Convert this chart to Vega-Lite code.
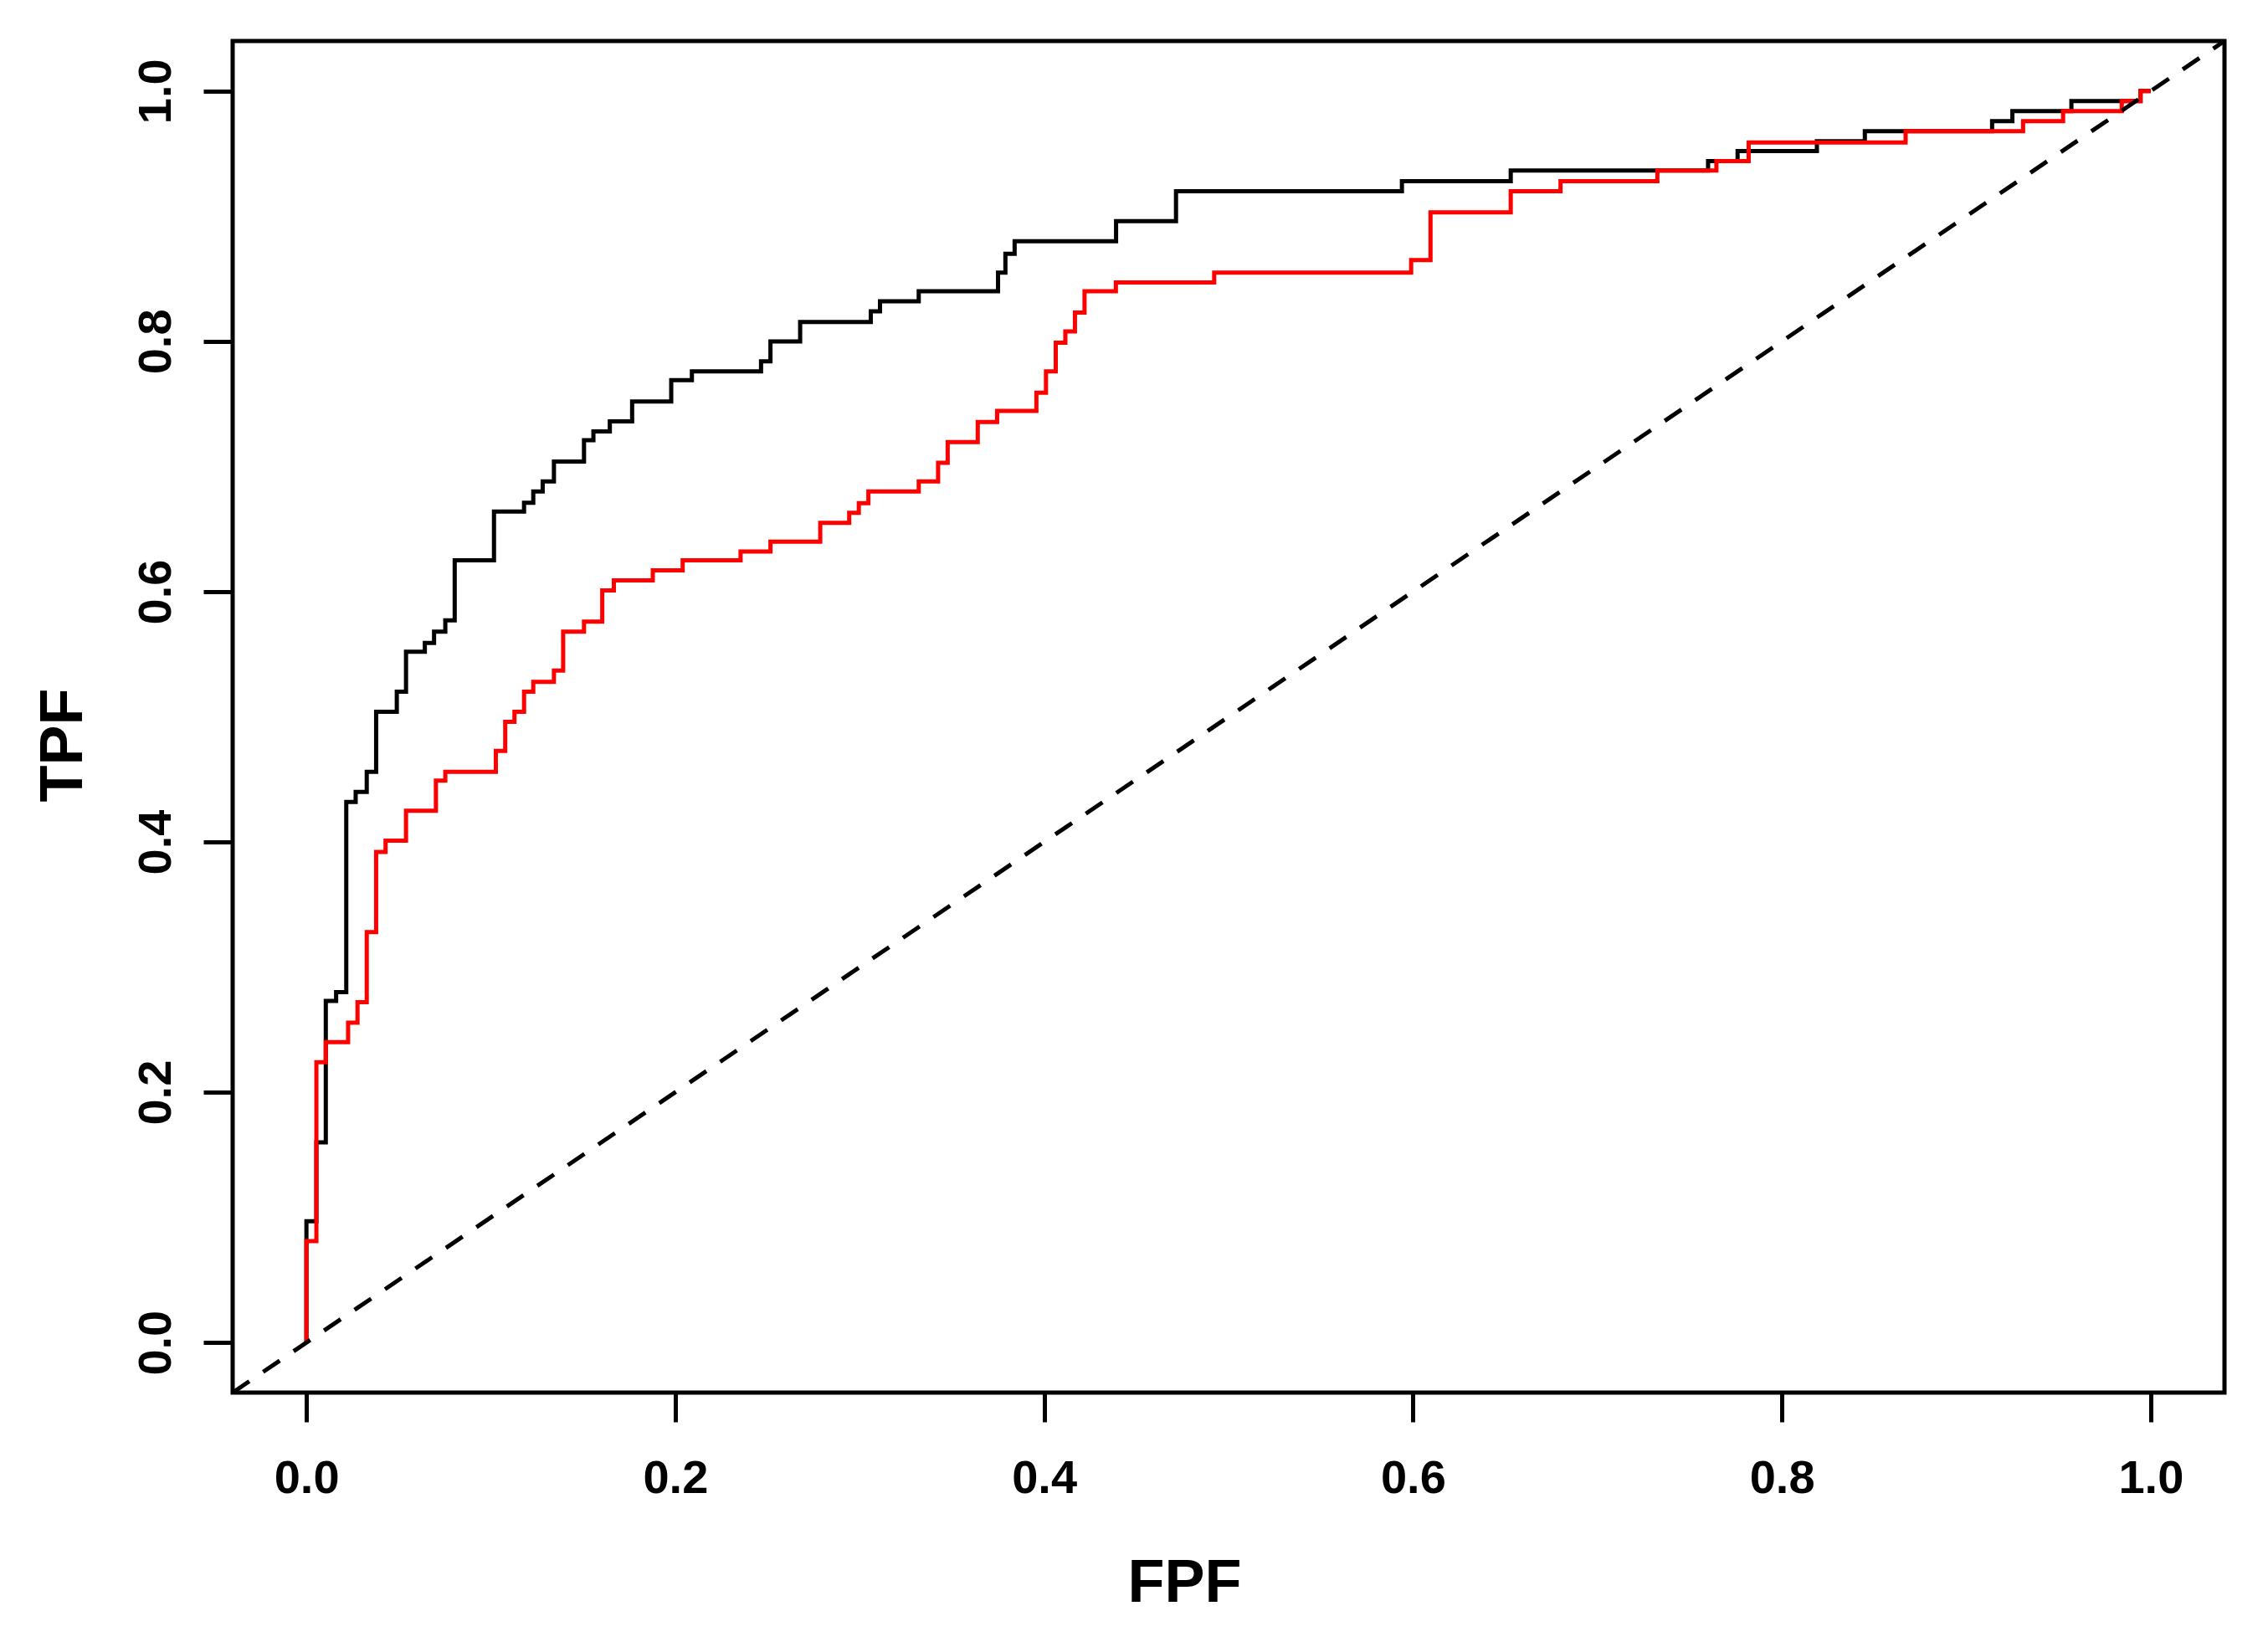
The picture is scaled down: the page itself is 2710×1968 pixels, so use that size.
{
  "$schema": "https://vega.github.io/schema/vega-lite/v6.json",
  "width": 2380,
  "height": 1615,
  "autosize": {"type": "none"},
  "padding": {"left": 278, "top": 49, "right": 52, "bottom": 304},
  "background": "white",
  "config": {
    "view": {"stroke": "black", "strokeWidth": 5},
    "axis": {
      "domain": false,
      "grid": false,
      "ticks": true,
      "tickColor": "black",
      "tickWidth": 5,
      "tickSize": 35,
      "labelFont": "Liberation Sans",
      "labelFontWeight": "bold",
      "labelFontSize": 56,
      "labelColor": "black",
      "labelPadding": 40,
      "labelFlush": false,
      "labelOverlap": false,
      "titleFont": "Liberation Sans",
      "titleFontWeight": "bold",
      "titleFontSize": 72,
      "titleColor": "black"
    }
  },
  "datasets": {
    "roc": [
      {"curve": "black", "i": 0, "fpf": 0, "tpf": 0},
      {"curve": "black", "i": 1, "fpf": 0, "tpf": 0.097},
      {"curve": "black", "i": 2, "fpf": 0.0054, "tpf": 0.16},
      {"curve": "black", "i": 3, "fpf": 0.0105, "tpf": 0.273},
      {"curve": "black", "i": 4, "fpf": 0.0161, "tpf": 0.28},
      {"curve": "black", "i": 5, "fpf": 0.0216, "tpf": 0.432},
      {"curve": "black", "i": 6, "fpf": 0.0267, "tpf": 0.44},
      {"curve": "black", "i": 7, "fpf": 0.0327, "tpf": 0.456},
      {"curve": "black", "i": 8, "fpf": 0.0378, "tpf": 0.504},
      {"curve": "black", "i": 9, "fpf": 0.049, "tpf": 0.52},
      {"curve": "black", "i": 10, "fpf": 0.054, "tpf": 0.552},
      {"curve": "black", "i": 11, "fpf": 0.0642, "tpf": 0.559},
      {"curve": "black", "i": 12, "fpf": 0.0692, "tpf": 0.568},
      {"curve": "black", "i": 13, "fpf": 0.0753, "tpf": 0.577},
      {"curve": "black", "i": 14, "fpf": 0.0804, "tpf": 0.625},
      {"curve": "black", "i": 15, "fpf": 0.1017, "tpf": 0.664},
      {"curve": "black", "i": 16, "fpf": 0.118, "tpf": 0.671},
      {"curve": "black", "i": 17, "fpf": 0.123, "tpf": 0.68},
      {"curve": "black", "i": 18, "fpf": 0.1281, "tpf": 0.688},
      {"curve": "black", "i": 19, "fpf": 0.1342, "tpf": 0.704},
      {"curve": "black", "i": 20, "fpf": 0.1505, "tpf": 0.721},
      {"curve": "black", "i": 21, "fpf": 0.1556, "tpf": 0.728},
      {"curve": "black", "i": 22, "fpf": 0.1645, "tpf": 0.736},
      {"curve": "black", "i": 23, "fpf": 0.1766, "tpf": 0.752},
      {"curve": "black", "i": 24, "fpf": 0.1978, "tpf": 0.769},
      {"curve": "black", "i": 25, "fpf": 0.209, "tpf": 0.776},
      {"curve": "black", "i": 26, "fpf": 0.2465, "tpf": 0.784},
      {"curve": "black", "i": 27, "fpf": 0.2516, "tpf": 0.8},
      {"curve": "black", "i": 28, "fpf": 0.2677, "tpf": 0.8155},
      {"curve": "black", "i": 29, "fpf": 0.306, "tpf": 0.824},
      {"curve": "black", "i": 30, "fpf": 0.311, "tpf": 0.832},
      {"curve": "black", "i": 31, "fpf": 0.332, "tpf": 0.84},
      {"curve": "black", "i": 32, "fpf": 0.375, "tpf": 0.855},
      {"curve": "black", "i": 33, "fpf": 0.379, "tpf": 0.87},
      {"curve": "black", "i": 34, "fpf": 0.384, "tpf": 0.88},
      {"curve": "black", "i": 35, "fpf": 0.439, "tpf": 0.896},
      {"curve": "black", "i": 36, "fpf": 0.4715, "tpf": 0.92},
      {"curve": "black", "i": 37, "fpf": 0.594, "tpf": 0.928},
      {"curve": "black", "i": 38, "fpf": 0.653, "tpf": 0.9365},
      {"curve": "black", "i": 39, "fpf": 0.76, "tpf": 0.944},
      {"curve": "black", "i": 40, "fpf": 0.776, "tpf": 0.952},
      {"curve": "black", "i": 41, "fpf": 0.819, "tpf": 0.96},
      {"curve": "black", "i": 42, "fpf": 0.845, "tpf": 0.968},
      {"curve": "black", "i": 43, "fpf": 0.914, "tpf": 0.976},
      {"curve": "black", "i": 44, "fpf": 0.925, "tpf": 0.984},
      {"curve": "black", "i": 45, "fpf": 0.957, "tpf": 0.992},
      {"curve": "black", "i": 46, "fpf": 0.9945, "tpf": 1.0},
      {"curve": "black", "i": 47, "fpf": 1.0, "tpf": 1.0},
      {"curve": "red", "i": 0, "fpf": 0, "tpf": 0},
      {"curve": "red", "i": 1, "fpf": 0, "tpf": 0.081},
      {"curve": "red", "i": 2, "fpf": 0.0054, "tpf": 0.224},
      {"curve": "red", "i": 3, "fpf": 0.0105, "tpf": 0.24},
      {"curve": "red", "i": 4, "fpf": 0.0226, "tpf": 0.2555},
      {"curve": "red", "i": 5, "fpf": 0.0277, "tpf": 0.272},
      {"curve": "red", "i": 6, "fpf": 0.0327, "tpf": 0.328},
      {"curve": "red", "i": 7, "fpf": 0.0378, "tpf": 0.392},
      {"curve": "red", "i": 8, "fpf": 0.0429, "tpf": 0.401},
      {"curve": "red", "i": 9, "fpf": 0.054, "tpf": 0.425},
      {"curve": "red", "i": 10, "fpf": 0.0702, "tpf": 0.449},
      {"curve": "red", "i": 11, "fpf": 0.0753, "tpf": 0.456},
      {"curve": "red", "i": 12, "fpf": 0.1027, "tpf": 0.4727},
      {"curve": "red", "i": 13, "fpf": 0.1078, "tpf": 0.496},
      {"curve": "red", "i": 14, "fpf": 0.1128, "tpf": 0.504},
      {"curve": "red", "i": 15, "fpf": 0.118, "tpf": 0.52},
      {"curve": "red", "i": 16, "fpf": 0.123, "tpf": 0.528},
      {"curve": "red", "i": 17, "fpf": 0.1342, "tpf": 0.537},
      {"curve": "red", "i": 18, "fpf": 0.1392, "tpf": 0.568},
      {"curve": "red", "i": 19, "fpf": 0.1505, "tpf": 0.576},
      {"curve": "red", "i": 20, "fpf": 0.1604, "tpf": 0.601},
      {"curve": "red", "i": 21, "fpf": 0.1667, "tpf": 0.609},
      {"curve": "red", "i": 22, "fpf": 0.1878, "tpf": 0.617},
      {"curve": "red", "i": 23, "fpf": 0.204, "tpf": 0.625},
      {"curve": "red", "i": 24, "fpf": 0.2354, "tpf": 0.632},
      {"curve": "red", "i": 25, "fpf": 0.2516, "tpf": 0.64},
      {"curve": "red", "i": 26, "fpf": 0.2786, "tpf": 0.655},
      {"curve": "red", "i": 27, "fpf": 0.2943, "tpf": 0.663},
      {"curve": "red", "i": 28, "fpf": 0.2995, "tpf": 0.6707},
      {"curve": "red", "i": 29, "fpf": 0.3047, "tpf": 0.68},
      {"curve": "red", "i": 30, "fpf": 0.332, "tpf": 0.688},
      {"curve": "red", "i": 31, "fpf": 0.3425, "tpf": 0.703},
      {"curve": "red", "i": 32, "fpf": 0.3477, "tpf": 0.7195},
      {"curve": "red", "i": 33, "fpf": 0.364, "tpf": 0.7356},
      {"curve": "red", "i": 34, "fpf": 0.3745, "tpf": 0.7444},
      {"curve": "red", "i": 35, "fpf": 0.3958, "tpf": 0.759},
      {"curve": "red", "i": 36, "fpf": 0.401, "tpf": 0.776},
      {"curve": "red", "i": 37, "fpf": 0.4063, "tpf": 0.799},
      {"curve": "red", "i": 38, "fpf": 0.4115, "tpf": 0.808},
      {"curve": "red", "i": 39, "fpf": 0.4167, "tpf": 0.823},
      {"curve": "red", "i": 40, "fpf": 0.4219, "tpf": 0.84},
      {"curve": "red", "i": 41, "fpf": 0.4389, "tpf": 0.847},
      {"curve": "red", "i": 42, "fpf": 0.4922, "tpf": 0.855},
      {"curve": "red", "i": 43, "fpf": 0.599, "tpf": 0.865},
      {"curve": "red", "i": 44, "fpf": 0.6095, "tpf": 0.903},
      {"curve": "red", "i": 45, "fpf": 0.653, "tpf": 0.92},
      {"curve": "red", "i": 46, "fpf": 0.68, "tpf": 0.928},
      {"curve": "red", "i": 47, "fpf": 0.7325, "tpf": 0.9365},
      {"curve": "red", "i": 48, "fpf": 0.7645, "tpf": 0.944},
      {"curve": "red", "i": 49, "fpf": 0.782, "tpf": 0.959},
      {"curve": "red", "i": 50, "fpf": 0.8671, "tpf": 0.968},
      {"curve": "red", "i": 51, "fpf": 0.9308, "tpf": 0.976},
      {"curve": "red", "i": 52, "fpf": 0.9525, "tpf": 0.984},
      {"curve": "red", "i": 53, "fpf": 0.9843, "tpf": 0.992},
      {"curve": "red", "i": 54, "fpf": 0.9945, "tpf": 1.0},
      {"curve": "red", "i": 55, "fpf": 1.0, "tpf": 1.0}
    ],
    "diag": [
      {"fpf": -0.04, "tpf": -0.04},
      {"fpf": 1.04, "tpf": 1.04}
    ]
  },
  "encoding": {
    "x": {
      "field": "fpf",
      "type": "quantitative",
      "scale": {"domain": [-0.04, 1.04], "nice": false, "zero": false},
      "axis": {
        "values": [0, 0.2, 0.4, 0.6, 0.8, 1.0],
        "format": ".1f",
        "title": "FPF",
        "titleX": 1137,
        "titleY": 249,
        "titleAlign": "center",
        "titleBaseline": "alphabetic"
      }
    },
    "y": {
      "field": "tpf",
      "type": "quantitative",
      "scale": {"domain": [-0.04, 1.04], "nice": false, "zero": false},
      "axis": {
        "values": [0, 0.2, 0.4, 0.6, 0.8, 1.0],
        "format": ".1f",
        "labelAngle": -90,
        "labelAlign": "center",
        "labelBaseline": "alphabetic",
        "title": "TPF",
        "titleAngle": -90,
        "titleX": -181,
        "titleY": 841,
        "titleAlign": "center",
        "titleBaseline": "alphabetic"
      }
    }
  },
  "layer": [
    {
      "data": {"name": "roc"},
      "transform": [{"filter": "datum.curve === 'black'"}],
      "mark": {"type": "line", "interpolate": "step-after", "color": "black", "strokeWidth": 5, "clip": true},
      "encoding": {"order": {"field": "i", "type": "quantitative"}}
    },
    {
      "data": {"name": "roc"},
      "transform": [{"filter": "datum.curve === 'red'"}],
      "mark": {"type": "line", "interpolate": "step-after", "color": "#ff0000", "strokeWidth": 5, "clip": true},
      "encoding": {"order": {"field": "i", "type": "quantitative"}}
    },
    {
      "data": {"name": "diag"},
      "mark": {"type": "line", "color": "black", "strokeWidth": 5, "strokeDash": [24, 20], "clip": true},
      "encoding": {}
    }
  ]
}
